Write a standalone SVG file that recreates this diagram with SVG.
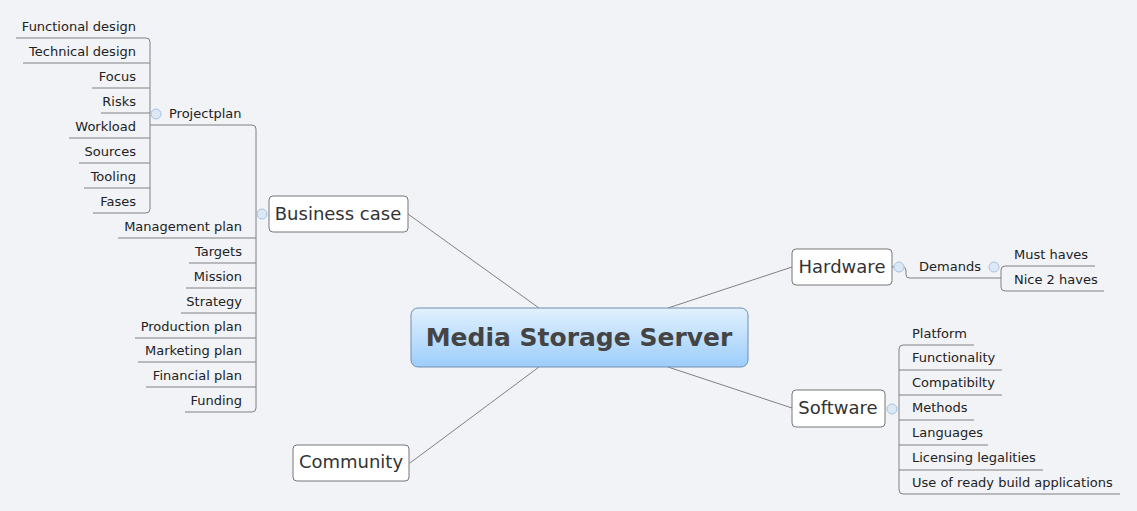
<svg xmlns="http://www.w3.org/2000/svg" width="1137" height="511" viewBox="0 0 1137 511">
<defs>
<linearGradient id="g" x1="0" y1="0" x2="0" y2="1"><stop offset="0" stop-color="#e2f1fe"/><stop offset="1" stop-color="#9ccdfb"/></linearGradient>
<style>
text{font-family:"DejaVu Sans",sans-serif;fill:#222}
.l{font-size:13px}
.r{text-anchor:end}
.t{font-size:18px;fill:#333}
.box{fill:#fff;stroke:#777;stroke-width:1}
.c{fill:none;stroke:#808080;stroke-width:1}
.k{fill:#dde8f5;stroke:#a9c2e0;stroke-width:1}
</style>
</defs>
<rect width="1137" height="511" fill="#f1f3f7"/>
<g id="connectors">
<path class="c" d="M539 308L408 214M668 308L792 267M668 367L792 408M539 367L410 463"/>
<path class="c" d="M16 38H146Q150 38 150 42V209Q150 213 146 213H93M23 63H150M92 88H150M101 113H150M69 138H150M79 163H150M84 188H150M150 125H252Q256 125 256 129V408Q256 412 252 412H185M118 238H256M189 263H256M186 288H256M181 313H256M135 338H256M138 362H256M146 387H256"/>
<path class="c" d="M892 267H903Q906 267 906 271V275Q906 278 910 278H1001M1095 266H1005Q1001 266 1001 270V287Q1001 291 1005 291H1104"/>
<path class="c" d="M974 345H903Q899 345 899 349V490Q899 494 903 494H1120M899 370H1002M899 395H1002M899 420H974M899 445H988M899 470H1043"/>
</g>
<g id="center"><rect x="411" y="308" width="337" height="59" rx="7" fill="url(#g)" stroke="#6f8fb0"/><text x="579" y="346" text-anchor="middle" style="font-size:25px;font-weight:bold;fill:#444">Media Storage Server</text></g>
<g id="business"><circle class="k" cx="262" cy="214" r="5"/><rect class="box" x="269" y="196" width="139" height="36" rx="4"/><text class="t" x="338" y="220" text-anchor="middle">Business case</text></g>
<g id="hardware"><circle class="k" cx="899" cy="267" r="5"/><rect class="box" x="792" y="249" width="100" height="36" rx="4"/><text class="t" x="842" y="273" text-anchor="middle">Hardware</text></g>
<g id="software"><circle class="k" cx="892" cy="409" r="5"/><rect class="box" x="792" y="390" width="93" height="37" rx="4"/><text class="t" x="838" y="414" text-anchor="middle">Software</text></g>
<g id="community"><rect class="box" x="293" y="445" width="116" height="36" rx="4"/><text class="t" x="351" y="468" text-anchor="middle">Community</text></g>
<g id="projectplan"><circle class="k" cx="156" cy="114" r="5"/><text class="l" x="169" y="118">Projectplan</text></g>
<g id="pp-leaves">
<text class="l r" x="136" y="31">Functional design</text>
<text class="l r" x="136" y="56">Technical design</text>
<text class="l r" x="136" y="81">Focus</text>
<text class="l r" x="136" y="106">Risks</text>
<text class="l r" x="136" y="131">Workload</text>
<text class="l r" x="136" y="156">Sources</text>
<text class="l r" x="136" y="181">Tooling</text>
<text class="l r" x="136" y="206">Fases</text>
</g>
<g id="bc-leaves">
<text class="l r" x="242" y="231">Management plan</text>
<text class="l r" x="242" y="256">Targets</text>
<text class="l r" x="242" y="281">Mission</text>
<text class="l r" x="242" y="306">Strategy</text>
<text class="l r" x="242" y="331">Production plan</text>
<text class="l r" x="242" y="355">Marketing plan</text>
<text class="l r" x="242" y="380">Financial plan</text>
<text class="l r" x="242" y="405">Funding</text>
</g>
<g id="demands"><circle class="k" cx="994" cy="267" r="5"/><text class="l" x="919" y="271">Demands</text></g>
<g id="hw-leaves">
<text class="l" x="1014" y="259">Must haves</text>
<text class="l" x="1014" y="284">Nice 2 haves</text>
</g>
<g id="sw-leaves">
<text class="l" x="912" y="338">Platform</text>
<text class="l" x="912" y="362">Functionality</text>
<text class="l" x="912" y="387">Compatibilty</text>
<text class="l" x="912" y="412">Methods</text>
<text class="l" x="912" y="437">Languages</text>
<text class="l" x="912" y="462">Licensing legalities</text>
<text class="l" x="912" y="487">Use of ready build applications</text>
</g>
</svg>
